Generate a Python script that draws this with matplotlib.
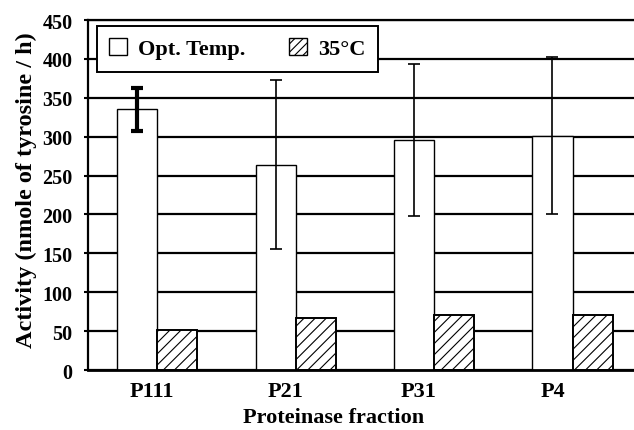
import matplotlib.pyplot as plt
import numpy as np
from matplotlib.patches import Patch

# Data
fractions = ['P111', 'P21', 'P31', 'P4']
opt_temp = [335, 264, 296, 301]
opt_err = [28, 109, 98, 101]
at_35c = [51, 67, 71, 71]

plt.rcParams['font.family'] = ['Liberation Serif', 'DejaVu Serif']
plt.rcParams['font.weight'] = 'bold'
plt.rcParams['hatch.linewidth'] = 0.8

fig = plt.figure(figsize=(6.34, 4.31), dpi=100)
ax = fig.add_axes([0.1388, 0.1392, 0.8734, 0.812])

x = np.arange(len(fractions))
w = 0.29

ax.set_axisbelow(True)
ax.yaxis.grid(True, color='black', linewidth=1.6)

ax.bar(x - w / 2, opt_temp, w, color='white', edgecolor='black', linewidth=1.0, zorder=2)
ax.bar(x + w / 2, at_35c, w, color='white', edgecolor='black', linewidth=1.4,
       hatch='///', zorder=2)

# first error bar is drawn heavier in the original
for i in range(len(fractions)):
    lw = 3.0 if i == 0 else 1.2
    ax.errorbar(x[i] - w / 2, opt_temp[i], yerr=opt_err[i], fmt='none', ecolor='black',
                elinewidth=lw, capsize=4.5, capthick=lw, zorder=3)

ax.set_xlim(-0.5, 3.5)
ax.set_ylim(0, 450)
ax.set_yticks(range(0, 451, 50))
# category labels sit a little left of the bar groups in the original
ax.set_xticks(x - 0.04 - 0.035 * x)
ax.set_xticklabels(fractions, fontsize=16, fontweight='bold')
ax.tick_params(axis='y', labelsize=14.5, length=3, width=1.5, pad=8)
ax.tick_params(axis='x', length=0, pad=8)
for lab in ax.get_yticklabels():
    lab.set_fontweight('bold')

ax.spines['right'].set_visible(False)
ax.spines['top'].set_linewidth(1.6)
ax.spines['left'].set_linewidth(1.6)
ax.spines['bottom'].set_linewidth(2.0)

ax.set_xlabel('Proteinase fraction', fontsize=16, fontweight='bold')
ax.xaxis.set_label_coords(0.4426, -0.105)
ax.set_ylabel('Activity (nmole of tyrosine / h)', fontsize=17.5, fontweight='bold')
ax.yaxis.set_label_coords(-0.093, 0.517)

handles = [Patch(facecolor='white', edgecolor='black', linewidth=1.0),
           Patch(facecolor='white', edgecolor='black', linewidth=1.0, hatch='////')]
leg = ax.legend(handles, ['Opt. Temp.', '35°C'], ncol=2, mode='expand',
                loc='upper left', bbox_to_anchor=(0.016, 0.5, 0.507, 0.483),
                borderaxespad=0, fancybox=False, framealpha=1, borderpad=0.55,
                handlelength=0.8, handleheight=0.8, handletextpad=0.5,
                prop={'size': 16, 'weight': 'bold'})
leg.get_frame().set_edgecolor('black')
leg.get_frame().set_linewidth(1.4)

fig.savefig('out.png', dpi=100)
